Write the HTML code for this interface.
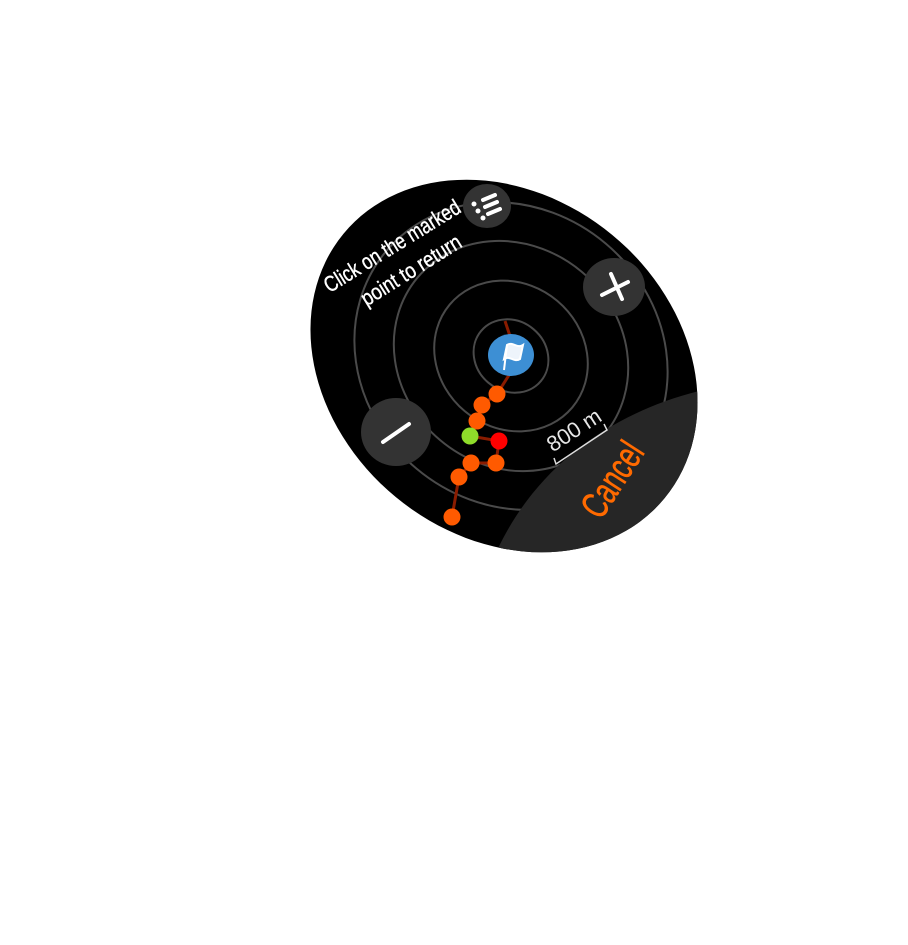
<!DOCTYPE html>
<html><head><meta charset="utf-8"><style>html,body{margin:0;padding:0;background:#fff;}svg{display:block}</style></head>
<body>
<svg width="908" height="945" viewBox="0 0 908 945" xmlns="http://www.w3.org/2000/svg">
<defs>
<clipPath id="face"><ellipse cx="504" cy="366" rx="208" ry="170" transform="rotate(39.5 504 366)"/></clipPath>
</defs>
<ellipse cx="504" cy="366" rx="208" ry="170" transform="rotate(39.5 504 366)" fill="#000"/>
<g clip-path="url(#face)">
  <g fill="none" stroke="#4a4a4a" stroke-width="2" transform="rotate(40 511 356)">
    <ellipse cx="511" cy="356" rx="39" ry="35"/>
    <ellipse cx="511" cy="356" rx="80" ry="72"/>
    <ellipse cx="511" cy="356" rx="122" ry="110"/>
    <ellipse cx="511" cy="356" rx="163" ry="147"/>
  </g>
  <path d="M492,562 C530,470 610,410 712,388 L730,620 L470,620 Z" fill="#262626"/>
</g>
<g stroke="#8a1c00" stroke-width="3" fill="none">
  <line x1="505" y1="321" x2="510" y2="336"/>
  <line x1="511" y1="372" x2="497" y2="394"/>
  <polyline points="497,394 482,405 477,421 470,436 499,441 496,463 471,463 459,477 452,517"/>
</g>
<g fill="#ff5a00">
  <circle cx="497" cy="394" r="8.5"/>
  <circle cx="482" cy="405" r="8.5"/>
  <circle cx="477" cy="421" r="8.5"/>
  <circle cx="496" cy="463" r="8.5"/>
  <circle cx="471" cy="463" r="8.5"/>
  <circle cx="459" cy="477" r="8.5"/>
  <circle cx="452" cy="517" r="8.5"/>
</g>
<circle cx="470" cy="436" r="8.5" fill="#8fdc2a"/>
<circle cx="499" cy="441" r="8.5" fill="#ff0000"/>
<ellipse cx="511" cy="355" rx="23" ry="21" fill="#3d8fd4"/>
<path d="M504,370 L507,345 M507,345 C513,341 517,349 523,345 L520,359 C514,363 510,355 504,359 Z" stroke="#fff" stroke-width="2" fill="#eef4fb"/>
<ellipse cx="487" cy="206" rx="24" ry="22" fill="#333"/>
<g stroke="#fff" stroke-width="4" stroke-linecap="round">
  <line x1="483" y1="200" x2="495" y2="195"/>
  <line x1="485" y1="207" x2="497" y2="202"/>
  <line x1="488" y1="214" x2="500" y2="209"/>
</g>
<g fill="#fff"><circle cx="474" cy="204" r="2.5"/><circle cx="478" cy="211" r="2.5"/><circle cx="483" cy="218" r="2.5"/></g>
<ellipse cx="614" cy="287" rx="31" ry="29" fill="#333"/>
<g stroke="#fff" stroke-width="4" stroke-linecap="round">
  <line x1="602" y1="295" x2="628" y2="282"/>
  <line x1="611" y1="274" x2="622" y2="299"/>
</g>
<ellipse cx="396" cy="432" rx="35" ry="34" fill="#333"/>
<line x1="383" y1="442" x2="409" y2="424" stroke="#fff" stroke-width="4" stroke-linecap="round"/>
<g font-family="'Liberation Sans Narrow','Liberation Sans',sans-serif" fill="#fff" font-size="22" text-anchor="middle" dominant-baseline="central">
  <text x="392" y="246" transform="rotate(-31.6 392 246)" textLength="156" lengthAdjust="spacingAndGlyphs" stroke="#fff" stroke-width="0.4">Click on the marked</text>
  <text x="411" y="270" transform="rotate(-32 411 270)" textLength="114" lengthAdjust="spacingAndGlyphs" stroke="#fff" stroke-width="0.4">point to return</text>
  <text x="574" y="430" transform="rotate(-33 574 430)" fill="#e6e6e6" font-size="22" textLength="60" lengthAdjust="spacingAndGlyphs">800 m</text>
  <text x="613" y="480" transform="rotate(-57 613 480)" fill="#ff6a00" stroke="#ff6a00" stroke-width="0.6" font-size="38" textLength="82" lengthAdjust="spacingAndGlyphs">Cancel</text>
</g>
<polyline points="554,458 556,464 607,430 604,424" fill="none" stroke="#ddd" stroke-width="1.5"/>
</svg>
</body></html>
